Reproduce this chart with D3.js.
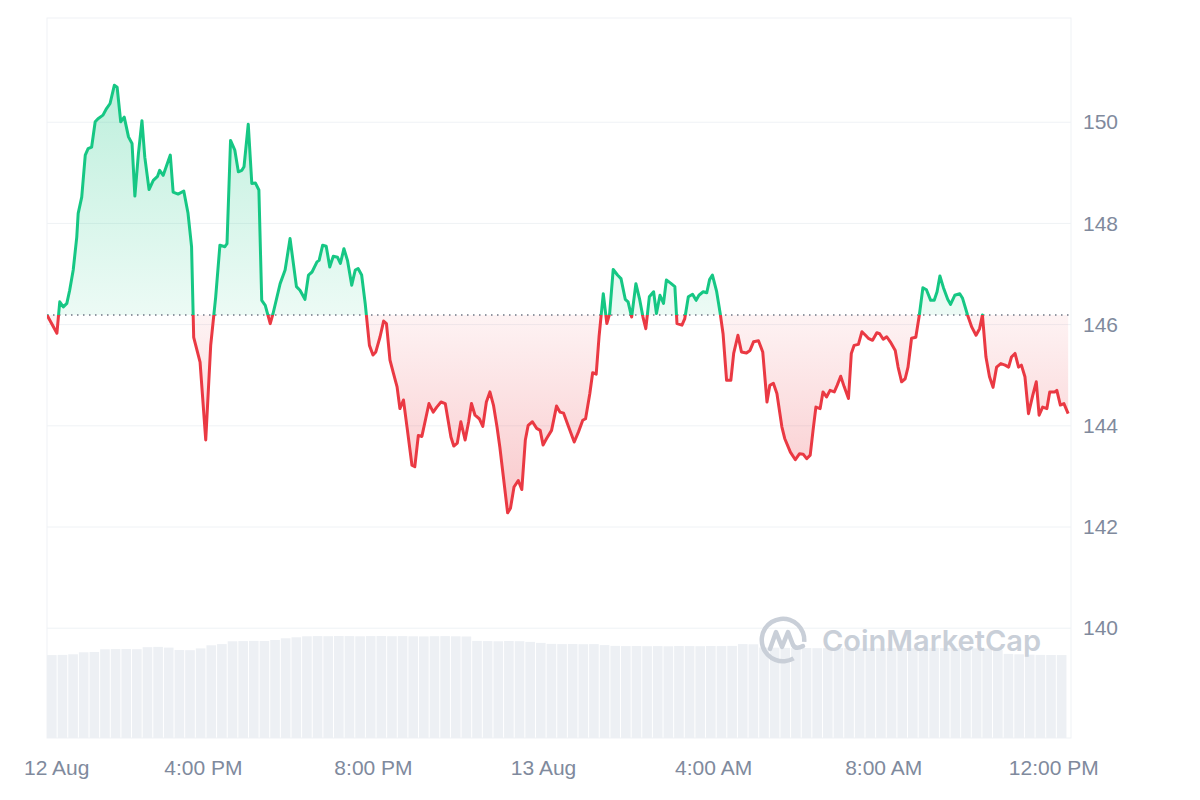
<!DOCTYPE html>
<html>
<head>
<meta charset="utf-8">
<script src="https://cdn.jsdelivr.net/npm/d3@7"></script>
<style>
  html, body { margin: 0; padding: 0; background: #fff; }
  svg { display: block; }
</style>
</head>
<body>
<div id="chart"></div>
<script>

// Price readings, minutes after the 12:20 PM open on 12 Aug
const minutesFromOpen = [
    0, 14, 18, 23, 28, 32, 37, 42, 44, 49,
    54, 58, 63, 68, 72, 79, 84, 89, 95, 99,
    104, 109, 115, 120, 124, 129, 134, 138, 144, 150,
    156, 159, 164, 174, 178, 185, 193, 199, 204, 207,
    216, 224, 231, 238, 244, 251, 254, 259, 265, 270,
    275, 278, 284, 289, 294, 299, 303, 308, 315, 319,
    329, 336, 343, 352, 357, 364, 369, 374, 381, 384,
    389, 394, 399, 404, 410, 414, 419, 424, 430, 435,
    439, 444, 449, 455, 460, 464, 470, 475, 479, 484,
    489, 494, 498, 503, 508, 515, 519, 524, 529, 533,
    539, 545, 550, 556, 562, 566, 570, 574, 579, 584,
    590, 595, 599, 604, 610, 615, 620, 625, 630, 635,
    639, 644, 650, 654, 659, 665, 670, 675, 679, 685,
    691, 696, 700, 705, 712, 719, 724, 729, 736, 744,
    750, 756, 760, 766, 770, 775, 779, 785, 790, 794,
    799, 805, 810, 816, 820, 825, 831, 836, 841, 845,
    850, 856, 860, 865, 870, 874, 880, 886, 889, 896,
    900, 905, 911, 916, 920, 926, 931, 935, 939, 945,
    950, 954, 959, 965, 969, 975, 980, 987, 992, 997,
    1004, 1010, 1016, 1020, 1025, 1030, 1037, 1041, 1049, 1056,
    1062, 1067, 1072, 1077, 1081, 1085, 1091, 1095, 1100, 1105,
    1111, 1115, 1120, 1125, 1131, 1135, 1139, 1145, 1150, 1155,
    1159, 1165, 1171, 1175, 1180, 1185, 1190, 1197, 1201, 1206,
    1211, 1215, 1220, 1226, 1231, 1236, 1241, 1247, 1252, 1256,
    1260, 1265, 1271, 1275, 1281, 1288, 1292, 1299, 1305, 1311,
    1316, 1320, 1325, 1330, 1335, 1340, 1346, 1352, 1357, 1361,
    1366, 1371, 1375, 1380, 1385, 1391, 1396, 1400, 1405, 1411,
    1415, 1422, 1425, 1430, 1435, 1441
];

const prices = [
    146.19, 145.83, 146.45, 146.35, 146.42, 146.68, 147.08, 147.73, 148.20, 148.52,
    149.35, 149.48, 149.51, 150.01, 150.07, 150.14, 150.27, 150.37, 150.73, 150.69,
    150.01, 150.10, 149.71, 149.58, 148.54, 149.38, 150.03, 149.31, 148.67, 148.85,
    148.93, 149.05, 148.95, 149.35, 148.62, 148.58, 148.64, 148.20, 147.54, 145.75,
    145.26, 143.72, 145.59, 146.54, 147.57, 147.54, 147.60, 149.64, 149.45, 149.02,
    149.05, 149.12, 149.96, 148.79, 148.80, 148.66, 146.48, 146.38, 146.02, 146.22,
    146.81, 147.08, 147.70, 146.75, 146.68, 146.50, 146.98, 147.04, 147.24, 147.27,
    147.57, 147.55, 147.14, 147.35, 147.33, 147.21, 147.50, 147.27, 146.78, 147.08,
    147.11, 146.98, 146.42, 145.59, 145.40, 145.46, 145.76, 146.07, 146.02, 145.30,
    145.03, 144.77, 144.34, 144.51, 143.98, 143.22, 143.19, 143.81, 143.79, 144.05,
    144.44, 144.27, 144.37, 144.47, 144.44, 144.11, 143.78, 143.60, 143.66, 144.08,
    143.72, 144.08, 144.44, 144.21, 144.14, 143.99, 144.47, 144.67, 144.41, 143.98,
    143.58, 142.99, 142.28, 142.37, 142.79, 142.92, 142.74, 143.72, 144.01, 144.08,
    143.95, 143.91, 143.62, 143.75, 143.91, 144.39, 144.27, 144.25, 143.98, 143.68,
    143.88, 144.11, 144.14, 144.64, 145.05, 145.02, 145.76, 146.61, 146.02, 146.22,
    147.09, 146.98, 146.91, 146.50, 146.45, 146.15, 146.81, 146.52, 146.15, 145.92,
    146.55, 146.65, 146.22, 146.58, 146.42, 146.88, 146.82, 146.75, 146.02, 145.99,
    146.12, 146.55, 146.60, 146.48, 146.58, 146.65, 146.63, 146.89, 146.98, 146.65,
    146.22, 145.82, 144.90, 144.90, 145.43, 145.79, 145.46, 145.44, 145.49, 145.66,
    145.68, 145.46, 144.47, 144.80, 144.84, 144.64, 143.98, 143.75, 143.48, 143.33,
    143.45, 143.44, 143.35, 143.42, 143.91, 144.37, 144.34, 144.67, 144.57, 144.70,
    144.67, 144.80, 144.98, 144.77, 144.54, 145.43, 145.59, 145.61, 145.86, 145.79,
    145.73, 145.69, 145.84, 145.82, 145.71, 145.76, 145.66, 145.49, 145.16, 144.87,
    144.93, 145.16, 145.73, 145.75, 146.19, 146.73, 146.69, 146.48, 146.48, 146.65,
    146.96, 146.73, 146.50, 146.40, 146.58, 146.61, 146.52, 146.19, 145.95, 145.79,
    145.92, 146.19, 145.36, 144.97, 144.76, 145.16, 145.23, 145.20, 145.16, 145.36,
    145.43, 145.16, 145.20, 144.97, 144.24, 144.60, 144.87, 144.21, 144.37, 144.34,
    144.67, 144.67, 144.70, 144.41, 144.44, 144.24
];

// Volume, one bar per 15 minutes
const volumes = [
    830, 832, 838, 858, 861, 888, 890, 891, 889, 909,
    912, 905, 881, 879, 897, 928, 940, 968, 970, 972,
    971, 981, 998, 1008, 1018, 1020, 1019, 1021, 1020, 1018,
    1020, 1021, 1019, 1020, 1018, 1017, 1019, 1020, 1018, 1016,
    972, 970, 968, 971, 969, 962, 952, 942, 940, 941,
    939, 940, 930, 922, 920, 921, 919, 920, 918, 921,
    920, 919, 921, 920, 922, 940, 938, 905, 904, 902,
    900, 901, 899, 900, 902, 901, 899, 900, 898, 900,
    901, 899, 900, 902, 901, 899, 900, 898, 896, 880,
    842, 838, 834, 832, 831, 830
];

const yTicks = [140, 142, 144, 146, 148, 150];
const xTickTimes = ["2024-08-12 12:33", "2024-08-12 16:00", "2024-08-12 20:00",
    "2024-08-13 00:00", "2024-08-13 04:00", "2024-08-13 08:00", "2024-08-13 12:00"];
const xTickLabels = ["12 Aug", "4:00 PM", "8:00 PM", "13 Aug", "4:00 AM", "8:00 AM", "12:00 PM"];


const width = 1200;
const height = 800;
const plot = { left: 47, right: 1071, top: 18, bottom: 738 };

const green = "#16c784";
const red = "#ea3943";
const grey = "#808a9d";
const gridColour = "#eff2f5";

const parseTime = d3.timeParse("%Y-%m-%d %H:%M");
const open = parseTime("2024-08-12 12:20");
const atMinute = (m) => new Date(open.getTime() + m * 60000);

const data = prices.map((p, i) => ({ t: atMinute(minutesFromOpen[i]), p: p }));
const baseline = prices[0];

const x = d3.scaleTime()
    .domain([open, atMinute(1445)])
    .range([plot.left, plot.right]);

const y = d3.scaleLinear()
    .domain([137.83, 152.06])
    .range([plot.bottom, plot.top]);

const vol = d3.scaleLinear()
    .domain([0, d3.max(volumes)])
    .range([plot.bottom, plot.bottom - 102]);

const baseY = y(baseline);

const svg = d3.select("#chart").append("svg")
    .attr("width", width)
    .attr("height", height);

const defs = svg.append("defs");

// Fill gradients, strongest away from the open price
const gGreen = defs.append("linearGradient")
    .attr("id", "fillGreen")
    .attr("gradientUnits", "userSpaceOnUse")
    .attr("x1", 0).attr("x2", 0)
    .attr("y1", y(d3.max(prices))).attr("y2", baseY);
gGreen.append("stop").attr("offset", 0).attr("stop-color", green).attr("stop-opacity", 0.28);
gGreen.append("stop").attr("offset", 1).attr("stop-color", green).attr("stop-opacity", 0.08);

const gRed = defs.append("linearGradient")
    .attr("id", "fillRed")
    .attr("gradientUnits", "userSpaceOnUse")
    .attr("x1", 0).attr("x2", 0)
    .attr("y1", baseY).attr("y2", y(d3.min(prices)));
gRed.append("stop").attr("offset", 0).attr("stop-color", red).attr("stop-opacity", 0.06);
gRed.append("stop").attr("offset", 1).attr("stop-color", red).attr("stop-opacity", 0.28);

defs.append("clipPath").attr("id", "above")
    .append("rect")
    .attr("x", plot.left).attr("y", 0)
    .attr("width", plot.right - plot.left).attr("height", baseY);

defs.append("clipPath").attr("id", "below")
    .append("rect")
    .attr("x", plot.left).attr("y", baseY)
    .attr("width", plot.right - plot.left).attr("height", height - baseY);

// Frame and grid
svg.append("rect")
    .attr("x", plot.left).attr("y", plot.top)
    .attr("width", plot.right - plot.left).attr("height", plot.bottom - plot.top)
    .attr("fill", "none")
    .attr("stroke", gridColour);

svg.append("g").selectAll("line")
    .data(yTicks)
    .enter().append("line")
    .attr("x1", plot.left).attr("x2", plot.right)
    .attr("y1", (d) => y(d)).attr("y2", (d) => y(d))
    .attr("stroke", gridColour);

// Volume bars
svg.append("g").selectAll("rect")
    .data(volumes)
    .enter().append("rect")
    .attr("x", (d, i) => x(atMinute(i * 15)))
    .attr("width", (d, i) => x(atMinute((i + 1) * 15)) - x(atMinute(i * 15)) - 1)
    .attr("y", (d) => vol(d))
    .attr("height", (d) => plot.bottom - vol(d))
    .attr("fill", "#edf0f4");

// Watermark
const mark = svg.append("g")
    .attr("transform", "translate(783,640)")
    .attr("fill", "none")
    .attr("stroke", "#c9cfd8")
    .attr("stroke-linecap", "round")
    .attr("stroke-linejoin", "round");

mark.append("path")
    .attr("d", d3.arc()
        .innerRadius(19).outerRadius(23.5)
        .startAngle(150 / 180 * Math.PI)
        .endAngle(455 / 180 * Math.PI)())
    .attr("fill", "#c9cfd8")
    .attr("stroke", "none");

mark.append("path")
    .attr("d", "M-13,9 L-7,-8 L-1,7 L5,-8 L10,5 Q13,10 20,6")
    .attr("stroke-width", 4.5);

svg.append("text")
    .attr("x", 822).attr("y", 651)
    .attr("font-family", "Inter, 'Noto Sans', sans-serif")
    .attr("font-weight", 600)
    .attr("font-size", 29)
    .attr("fill", "#c9cfd8")
    .text("CoinMarketCap");

// Price areas and line, split at the open price
const area = d3.area()
    .x((d) => x(d.t))
    .y0(baseY)
    .y1((d) => y(d.p));

const line = d3.line()
    .x((d) => x(d.t))
    .y((d) => y(d.p));

svg.append("path")
    .datum(data)
    .attr("clip-path", "url(#above)")
    .attr("d", area)
    .attr("fill", "url(#fillGreen)");

svg.append("path")
    .datum(data)
    .attr("clip-path", "url(#below)")
    .attr("d", area)
    .attr("fill", "url(#fillRed)");

svg.append("line")
    .attr("x1", plot.left).attr("x2", plot.right)
    .attr("y1", baseY).attr("y2", baseY)
    .attr("stroke", "#6f7785")
    .attr("stroke-width", 1.5)
    .attr("stroke-dasharray", "1.5,4.5");

svg.append("path")
    .datum(data)
    .attr("clip-path", "url(#above)")
    .attr("d", line)
    .attr("fill", "none")
    .attr("stroke", green)
    .attr("stroke-width", 3)
    .attr("stroke-linejoin", "round");

svg.append("path")
    .datum(data)
    .attr("clip-path", "url(#below)")
    .attr("d", line)
    .attr("fill", "none")
    .attr("stroke", red)
    .attr("stroke-width", 3)
    .attr("stroke-linejoin", "round");

// Axes
const xAxis = d3.axisBottom(x)
    .tickValues(xTickTimes.map(parseTime))
    .tickFormat((d, i) => xTickLabels[i])
    .tickSize(0)
    .tickPadding(22);

const yAxis = d3.axisRight(y)
    .tickValues(yTicks)
    .tickSize(0)
    .tickPadding(12);

svg.append("g")
    .attr("transform", "translate(0," + plot.bottom + ")")
    .call(xAxis)
    .call((g) => g.select(".domain").remove());

svg.append("g")
    .attr("transform", "translate(" + plot.right + ",0)")
    .call(yAxis)
    .call((g) => g.select(".domain").remove());

svg.selectAll(".tick text")
    .attr("font-family", "'Liberation Sans', Arial, sans-serif")
    .attr("font-size", 21)
    .attr("fill", grey);

</script>
</body>
</html>
